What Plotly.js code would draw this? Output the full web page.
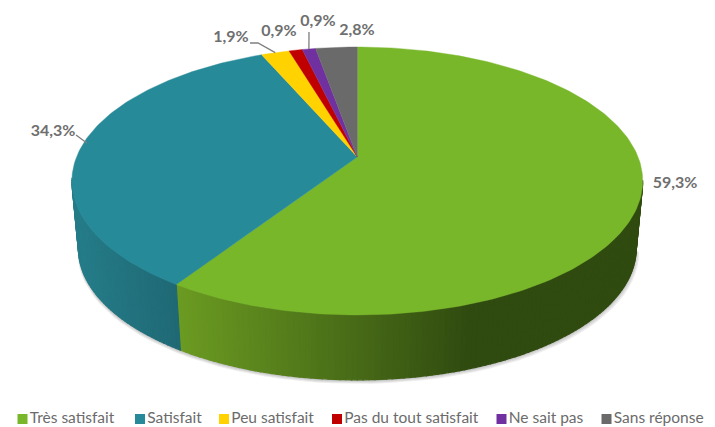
<!DOCTYPE html>
<html><head><meta charset="utf-8">
<script src="https://cdn.plot.ly/plotly-3.0.1.min.js"></script>
<style>html,body{margin:0;padding:0;background:#fff}</style></head>
<body><div id="chart" style="width:715px;height:427px"></div>
<script>
const categories = ["Très satisfait","Satisfait","Peu satisfait","Pas du tout satisfait","Ne sait pas","Sans réponse"];
const values = [59.3,34.3,1.9,0.9,0.9,2.8];
const labels = ["59,3%","34,3%","1,9%","0,9%","0,9%","2,8%"];
const colors = ["#78b72a","#278a98","#ffd200","#c00000","#7030a0","#6a6a6a"];
const labelX = [675,53,231,279,318,357];
const labelY = [184,132,38,32,22,31];
const legendX = [22.5,140,224,337,501.5,606.5];

// projection of the pie disc
const CX=357.3,CY=157,RX=280.8,RY=129.7,K=0.179,DEPTH=68,SX=0.977,SY=0.98;
const rad=d=>d*Math.PI/180;
const topPt=t=>{const u=Math.sin(rad(t)),v=Math.cos(rad(t)),s=1/(1+K*v);return [CX+RX*u*s,CY-RY*v*s];};
const botPt=t=>{const p=topPt(t);return [CX+(p[0]-CX)*SX,CY+(p[1]-CY)*SY+DEPTH];};
const total=values.reduce((a,b)=>a+b,0);
let acc=0;const starts=[],ends=[];
values.forEach(v=>{starts.push(acc/total*360);acc+=v;ends.push(acc/total*360);});

const mix=(a,b,f)=>{f=Math.max(0,Math.min(1,f));return "rgb("+a.map((c,i)=>Math.round(c+(b[i]-c)*f)).join(",")+")";};
const traces=[];
const poly=(xs,ys,color)=>traces.push({type:"scatter",mode:"lines",x:xs,y:ys,fill:"toself",fillcolor:color,
  line:{color:color,width:1.2},hoverinfo:"skip",showlegend:false});

// soft shadow beneath the body
[[3,4],[2,3],[1,2],[0.5,1]].forEach(o=>{
  const xs=[],ys=[];
  for(let t=100;t<=262;t+=3){const p=botPt(t);xs.push(p[0]+o[0]*(p[0]>CX?1:-0.3));ys.push(p[1]+o[1]);}
  traces.push({type:"scatter",mode:"lines",x:xs,y:ys,fill:"toself",fillcolor:"rgba(0,0,0,0.07)",line:{width:0},hoverinfo:"skip",showlegend:false});
});

// side walls as shaded strips
const strip=(t0,t1,colorFn)=>{
  const step=1;
  for(let t=t0;t<t1-1e-6;t+=step){
    const e=Math.min(t+step,t1),a=topPt(t),b=topPt(e),c=botPt(e),d=botPt(t);
    const mid=(a[0]+b[0])/2;
    poly([a[0],b[0],c[0],d[0],a[0]],[a[1],b[1],c[1],d[1],a[1]],colorFn(mid));
  }
};
strip(100,ends[0],x=>mix([107,155,34],[48,75,16],(x-177)/293));
strip(ends[0],261,x=>mix([37,124,136],[31,104,116],(x-78)/102));

// top faces
values.forEach((v,i)=>{
  const xs=[CX],ys=[CY];
  for(let t=starts[i];t<ends[i];t+=1){const p=topPt(t);xs.push(p[0]);ys.push(p[1]);}
  const p=topPt(ends[i]);xs.push(p[0],CX);ys.push(p[1],CY);
  traces.push({type:"scatter",mode:"lines",x:xs,y:ys,fill:"toself",fillcolor:colors[i],line:{color:colors[i],width:0.4},
    name:categories[i],hoverinfo:"skip",showlegend:false});
});

// leader lines from slice mid-rims
const rim=i=>topPt((starts[i]+ends[i])/2);
const leader=(xs,ys)=>traces.push({type:"scatter",mode:"lines",x:xs,y:ys,line:{color:"#7f7f7f",width:1.3},hoverinfo:"skip",showlegend:false});
{const r=rim(1);leader([76,r[0]+5],[135,r[1]-3]);}
{const r=rim(2);leader([250,258,r[0]],[43,43,r[1]]);}
{const r=rim(4);leader([309,r[0]],[32,r[1]]);}

// data labels
traces.push({type:"scatter",mode:"text",x:labelX,y:labelY,text:labels,textposition:"middle center",
  textfont:{family:"Lato, 'Liberation Sans', sans-serif",size:16,color:"#6f6f6f",weight:700},hoverinfo:"skip",showlegend:false});

// legend
categories.forEach((c,i)=>traces.push({type:"scatter",mode:"markers+text",x:[legendX[i]],y:[419],text:[c],textposition:"middle right",
  marker:{symbol:"square",size:10,color:colors[i]},
  textfont:{family:"Lato, 'Liberation Sans', sans-serif",size:15.5,color:"#6b6b6b"},hoverinfo:"skip",showlegend:false}));

Plotly.newPlot("chart",traces,{
  width:715,height:427,margin:{l:0,r:0,t:0,b:0},paper_bgcolor:"#fff",plot_bgcolor:"#fff",showlegend:false,
  xaxis:{visible:false,range:[0,715],fixedrange:true},
  yaxis:{visible:false,range:[427,0],fixedrange:true}
},{staticPlot:true,displayModeBar:false});
</script></body></html>
